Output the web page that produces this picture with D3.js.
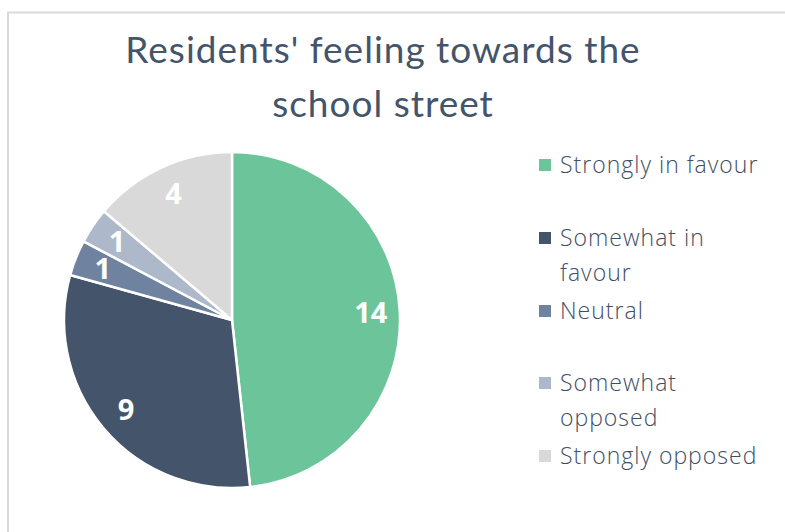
<!DOCTYPE html>
<html>
<head>
<meta charset="utf-8">
<script src="https://cdn.jsdelivr.net/npm/d3@7"></script>
<style>
  html, body { margin: 0; padding: 0; background: #fff; }
  svg { display: block; }
</style>
</head>
<body>
<svg id="chart" width="785" height="532"></svg>
<script>
// Survey answers: residents' feeling towards the school street
const categories = ["Strongly in favour", "Somewhat in favour", "Neutral", "Somewhat opposed", "Strongly opposed"];
const counts = [14, 9, 1, 1, 4];
const colors = ["#6CC49A", "#44546A", "#6F83A0", "#ADB9CA", "#D9D9D9"];
// Legend entries, wrapped the way they appear beside the pie
const legendLines = [["Strongly in favour"], ["Somewhat in", "favour"], ["Neutral"], ["Somewhat", "opposed"], ["Strongly opposed"]];
const titleLines = ["Residents' feeling towards the", "school street"];

const svg = d3.select("#chart");

// Chart area frame
svg.append("rect")
  .attr("x", 8).attr("y", 12.5)
  .attr("width", 800).attr("height", 540)
  .attr("fill", "#fff")
  .attr("stroke", "#D9D9D9").attr("stroke-width", 2);

// Title
svg.append("g").selectAll("text")
  .data(titleLines)
  .join("text")
  .attr("x", 383)
  .attr("y", (d, i) => 63 + i * 54)
  .attr("text-anchor", "middle")
  .attr("font-family", "Lato, 'Open Sans', sans-serif")
  .attr("font-weight", 400)
  .attr("font-size", 37)
  .attr("letter-spacing", 1)
  .attr("fill", "#44546A")
  .text(d => d);

// Pie
const cx = 232, cy = 320, radius = 168;
const data = categories.map((c, i) => ({ category: c, value: counts[i], color: colors[i] }));
const pie = d3.pie().value(d => d.value).sort(null);
const arc = d3.arc().innerRadius(0).outerRadius(radius);
const labelArc = d3.arc().innerRadius(139).outerRadius(139);

const g = svg.append("g").attr("transform", `translate(${cx},${cy})`);
const arcs = pie(data);

g.selectAll("path")
  .data(arcs)
  .join("path")
  .attr("d", arc)
  .attr("fill", d => d.data.color)
  .attr("stroke", "#fff")
  .attr("stroke-width", 2.5)
  .attr("stroke-linejoin", "round");

g.selectAll("text.value")
  .data(arcs)
  .join("text")
  .attr("class", "value")
  .attr("transform", d => `translate(${labelArc.centroid(d)})`)
  .attr("text-anchor", "middle")
  .attr("dy", "0.36em")
  .attr("font-family", "'Open Sans', sans-serif")
  .attr("font-weight", 700)
  .attr("font-size", 29)
  .attr("fill", "#fff")
  .text(d => d.data.value);

// Legend
const legendY = [165, 238, 311, 383, 456];
const legend = svg.append("g");
const items = legend.selectAll("g")
  .data(data)
  .join("g")
  .attr("transform", (d, i) => `translate(539,${legendY[i]})`);

items.append("rect")
  .attr("x", 0).attr("y", -6)
  .attr("width", 12).attr("height", 12)
  .attr("fill", d => d.color);

items.each(function (d, i) {
  d3.select(this).selectAll("text")
    .data(legendLines[i])
    .join("text")
    .attr("x", 21)
    .attr("y", (t, j) => 8 + j * 35)
    .attr("font-family", "'Open Sans', sans-serif")
    .attr("font-weight", 300)
    .attr("font-size", 23)
    .attr("letter-spacing", 1)
    .attr("fill", "#3F4E63")
    .text(t => t);
});
</script>
</body>
</html>
